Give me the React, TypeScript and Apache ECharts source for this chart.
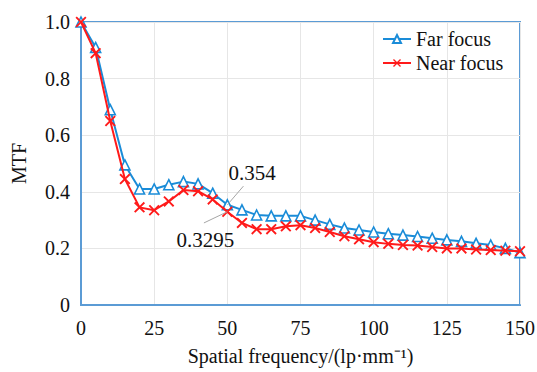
import React, { useEffect, useRef } from "react";
import * as echarts from "echarts";

const freq = [0,5,10,15,20,25,30,35,40,45,50,55,60,65,70,75,80,85,90,95,100,105,110,115,120,125,130,135,140,145,150];
const farFocus = [1.0,0.91,0.69,0.495,0.41,0.41,0.425,0.436,0.428,0.395,0.354,0.336,0.318,0.315,0.315,0.315,0.3,0.285,0.272,0.265,0.258,0.252,0.247,0.242,0.236,0.23,0.225,0.218,0.212,0.2,0.185];
const nearFocus = [1.0,0.89,0.65,0.445,0.345,0.335,0.366,0.406,0.402,0.373,0.3295,0.29,0.268,0.268,0.278,0.282,0.272,0.258,0.243,0.232,0.222,0.216,0.212,0.21,0.205,0.2,0.2,0.196,0.194,0.192,0.19];
const xTicks = [0, 25, 50, 75, 100, 125, 150];
const yTicks = [0, 0.2, 0.4, 0.6, 0.8, 1.0];
const annotations = [
  { text: "0.354", point: [50, 0.354], end: [55.5, 0.42], label: [58.5, 0.465] },
  { text: "0.3295", point: [50, 0.3295], end: [42, 0.29], label: [42.5, 0.228] },
];

const BLUE = "#1a8cd8";
const RED = "#ff1a1a";
const FRAME = "#5b9bd5";
const FONT = "'Liberation Serif', 'Times New Roman', serif";

const xPath = "path://M0,1.2 L1.2,0 L5,3.8 L8.8,0 L10,1.2 L6.2,5 L10,8.8 L8.8,10 L5,6.2 L1.2,10 L0,8.8 L3.8,5 Z";

export default function App() {
  const ref = useRef<HTMLDivElement>(null);
  useEffect(() => {
    document.body.style.margin = "0";
    if (!ref.current) return;
    const chart = echarts.init(ref.current, null, { renderer: "svg" });
    const option: any = {
      animation: false,
      backgroundColor: "#ffffff",
      textStyle: { fontFamily: FONT },
      grid: { left: 81, right: 17, top: 22, bottom: 67, show: true, borderColor: FRAME, borderWidth: 2, containLabel: false, outerBoundsMode: "none" },
      legend: {
        orient: "vertical",
        left: 377,
        top: 24,
        itemWidth: 28,
        itemHeight: 10,
        itemGap: 4,
        textStyle: { fontFamily: FONT, fontSize: 20, color: "#111", lineHeight: 20 },
        data: ["Far focus", "Near focus"],
      },
      xAxis: {
        type: "value",
        min: 0,
        max: 150,
        interval: 25,
        name: "Spatial frequency/(lp·mm⁻¹)",
        nameLocation: "middle",
        nameGap: 41,
        nameTextStyle: { fontFamily: FONT, fontSize: 20, color: "#111" },
        axisLine: { show: true, lineStyle: { color: FRAME, width: 2 } },
        axisTick: { show: false },
        axisLabel: { fontFamily: FONT, fontSize: 20, color: "#111", margin: 13, hideOverlap: false, formatter: (v: number) => (xTicks.includes(v) ? String(v) : "") },
        splitLine: { show: true, lineStyle: { color: "#e6e6e6", width: 1 } },
      },
      yAxis: {
        type: "value",
        min: 0,
        max: 1,
        interval: 0.2,
        name: "MTF",
        nameLocation: "middle",
        nameGap: 52,
        nameTextStyle: { fontFamily: FONT, fontSize: 20, color: "#111" },
        axisLine: { show: true, lineStyle: { color: FRAME, width: 2 } },
        axisTick: { show: false },
        axisLabel: {
          fontFamily: FONT, fontSize: 20, color: "#111", margin: 11,
          formatter: (v: number) => {
            const t = yTicks.find((y) => Math.abs(y - v) < 1e-6);
            if (t === undefined) return "";
            return t === 0 ? "0" : t.toFixed(1);
          },
        },
        splitLine: { show: true, lineStyle: { color: "#e6e6e6", width: 1 } },
      },
      series: [
        {
          name: "Far focus",
          type: "line",
          data: freq.map((f, i) => [f, farFocus[i]]),
          symbol: "triangle",
          symbolSize: 10,
          showAllSymbol: true,
          lineStyle: { color: BLUE, width: 2 },
          itemStyle: { color: "#ffffff", borderColor: BLUE, borderWidth: 1.6 },
          z: 2,
          markLine: {
            silent: true,
            symbol: "none",
            label: { show: false },
            lineStyle: { color: "#a6a6a6", width: 1, type: "solid" },
            data: annotations.map((a) => [{ coord: a.point }, { coord: a.end }]),
          },
        },
        {
          name: "Near focus",
          type: "line",
          data: freq.map((f, i) => [f, nearFocus[i]]),
          symbol: xPath,
          symbolSize: 11,
          showAllSymbol: true,
          lineStyle: { color: RED, width: 2 },
          itemStyle: { color: RED },
          z: 3,
          markPoint: {
            silent: true,
            symbol: "circle",
            symbolSize: 1,
            itemStyle: { color: "transparent" },
            label: { show: true, position: "inside", fontFamily: FONT, fontSize: 21, color: "#111", formatter: (p: any) => p.name },
            data: annotations.map((a) => ({ name: a.text, coord: a.label })),
          },
        },
      ],
    };
    chart.setOption(option);
    return () => chart.dispose();
  }, []);
  return <div ref={ref} style={{ width: 537, height: 372 }} />;
}
